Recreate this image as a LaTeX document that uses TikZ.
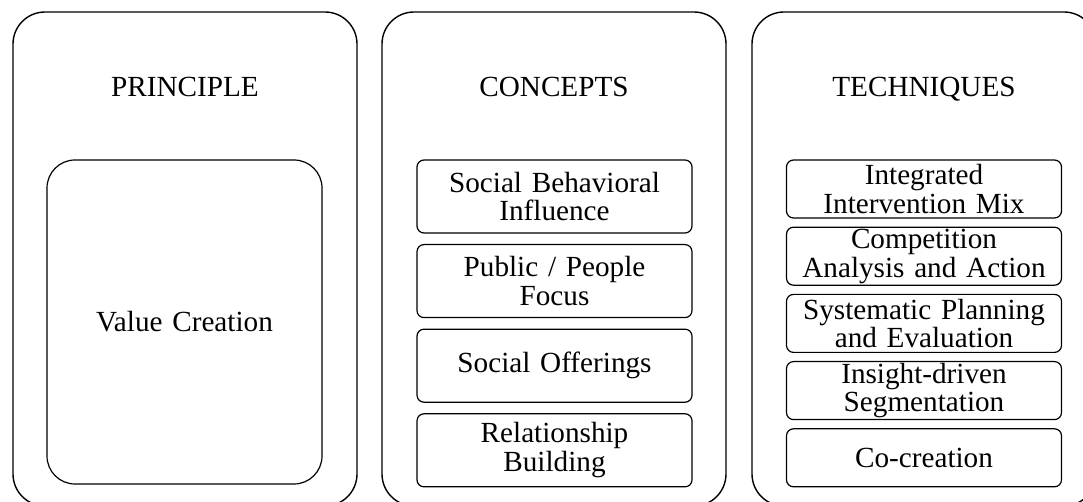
\documentclass[tikz,border=0pt]{standalone}
\usepackage{fontspec}
\setmainfont{Liberation Serif}
\usetikzlibrary{positioning}
\tikzset{
  panel/.style={draw, line width=0.7pt, rounded corners=16pt,
    minimum width=172pt, minimum height=247pt},
  heading/.style={anchor=base, font=\fontsize{14.6}{14.5}\selectfont},
  item/.style={draw, line width=0.6pt, rounded corners=3.5pt, align=center,
    inner sep=0pt, text width=136pt, minimum width=137.5pt,
    font=\fontsize{14.6}{14.3}\selectfont}
}

\begin{document}
\begin{tikzpicture}[x=0.5pt, y=-0.5pt]
\useasboundingbox (0,0) rectangle (1083,502);
\clip (0,0) rectangle (1083,502);
% the three columns run off the bottom edge
\node[panel] (principle) at (185,259) {};
\node[panel] (concepts) at (554,259) {};
\node[panel] (techniques) at (924,259) {};
\node[heading] (principle title) at (185,97) {PRINCIPLE};
\node[heading] (concepts title) at (554,97) {CONCEPTS};
\node[heading] (techniques title) at (924,97) {TECHNIQUES};
\node[item, rounded corners=14pt, minimum height=162pt] (value) at (184.5,322)
  {Value Creation};
% concepts, four boxes
\node[item, minimum height=36.5pt] (influence) at (554.5,196.5)
  {Social Behavioral\\Influence};
\node[item, minimum height=36.5pt, below=5.2pt of influence] (focus)
  {Public / People\\Focus};
\node[item, minimum height=36.5pt, below=5.2pt of focus] (offerings)
  {Social Offerings};
\node[item, minimum height=36.5pt, below=5.2pt of offerings] (relationship)
  {Relationship\\Building};
% techniques, five boxes
\node[item, minimum height=29pt] (mix) at (924,189)
  {Integrated\\Intervention Mix};
\node[item, minimum height=29pt, below=4pt of mix] (competition)
  {Competition\\Analysis and Action};
\node[item, minimum height=29pt, below=4pt of competition] (planning)
  {Systematic Planning\\and Evaluation};
\node[item, minimum height=29pt, below=4pt of planning] (segmentation)
  {Insight-driven\\Segmentation};
\node[item, minimum height=29pt, below=4pt of segmentation] (cocreation)
  {Co-creation};
\end{tikzpicture}
\end{document}
